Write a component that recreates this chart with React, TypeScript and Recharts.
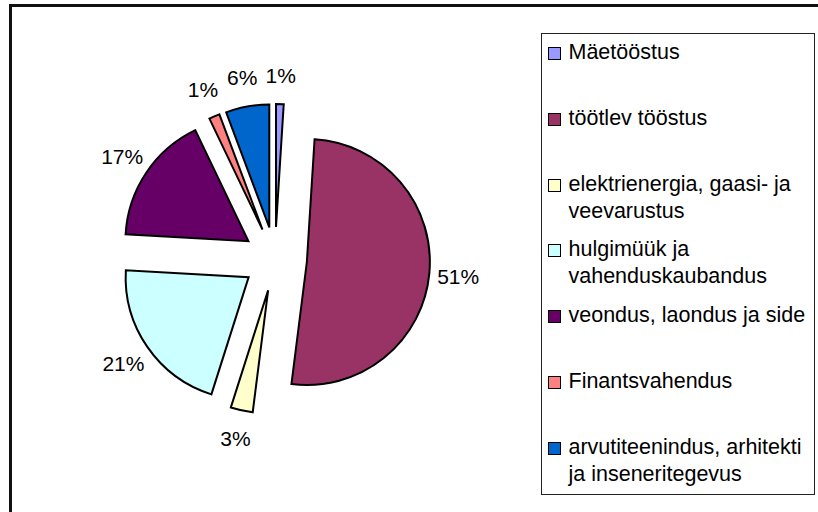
import { PieChart, Pie, Cell, Legend } from "recharts";

const categories = [
  "Mäetööstus",
  "töötlev tööstus",
  "elektrienergia, gaasi- ja veevarustus",
  "hulgimüük ja vahenduskaubandus",
  "veondus, laondus ja side",
  "Finantsvahendus",
  "arvutiteenindus, arhitekti ja inseneritegevus",
];
const shares = [1.0, 51.0, 2.9, 21.0, 17.0, 1.4, 5.7];
const colors = ["#9999FF", "#993366", "#FFFFCC", "#CCFFFF", "#660066", "#FF8080", "#0066CC"];

const data = categories.map((name, i) => ({ name, value: shares[i] }));
const total = shares.reduce((a, b) => a + b, 0);

const CX = 275;
const CY = 259;
const R = 123;
const EXPLODE = 32; // every slice pulled out by the same distance
const LABEL_R = 184;
const RAD = Math.PI / 180;
const FONT = '"Liberation Sans", Arial, sans-serif';

// middle of slice i, degrees clockwise from 12 o'clock
function midDeg(i: number) {
  const before = shares.slice(0, i).reduce((a, b) => a + b, 0);
  return ((before + shares[i] / 2) / total) * 360;
}

const makeLabel = (slice: number) => (props: any) => {
  if (props.index !== slice) return null;
  const a = -props.midAngle * RAD;
  const d = LABEL_R - EXPLODE;
  return (
    <text
      x={props.cx + d * Math.cos(a)}
      y={props.cy + d * Math.sin(a)}
      textAnchor="middle"
      dominantBaseline="central"
      fill="#000"
      fontSize={21}
      fontFamily={FONT}
    >
      {Math.round(props.percent * 100)}%
    </text>
  );
};

function LegendBox() {
  return (
    <div
      style={{
        boxSizing: "border-box",
        width: 274,
        height: 462,
        border: "1.5px solid #222",
        background: "#fff",
        paddingTop: 5,
        fontFamily: FONT,
        fontSize: 21.5,
        lineHeight: "27px",
        color: "#000",
      }}
    >
      {categories.map((name, i) => (
        <div key={name} style={{ position: "relative", height: 65.8 }}>
          <span
            style={{
              position: "absolute",
              left: 5.5,
              top: 8,
              width: 13,
              height: 13,
              boxSizing: "border-box",
              border: "1px solid #000",
              background: colors[i],
            }}
          />
          <div style={{ position: "absolute", left: 26.5, top: 0, width: 242 }}>{name}</div>
        </div>
      ))}
    </div>
  );
}

export default function App() {
  return (
    <div
      style={{
        position: "fixed",
        left: 0,
        top: 0,
        width: 818,
        height: 512,
        overflow: "hidden",
        background: "#fff",
      }}
    >
      <div
        style={{
          position: "absolute",
          left: 9,
          top: 4,
          width: 900,
          height: 600,
          border: "3px solid #111",
        }}
      />
      <div style={{ position: "absolute", left: 0, top: 0 }}>
        <PieChart width={818} height={512} margin={{ top: 0, right: 0, bottom: 0, left: 0 }}>
          {categories.map((_, slice) => {
            const m = midDeg(slice) * RAD;
            return (
              <Pie
                key={slice}
                data={data}
                dataKey="value"
                nameKey="name"
                cx={CX + EXPLODE * Math.sin(m)}
                cy={CY - EXPLODE * Math.cos(m)}
                outerRadius={R}
                startAngle={90}
                endAngle={-270}
                stroke="none"
                labelLine={false}
                label={makeLabel(slice)}
                isAnimationActive={false}
              >
                {data.map((_, j) => (
                  <Cell
                    key={j}
                    fill={j === slice ? colors[j] : "none"}
                    stroke={j === slice ? "#000" : "none"}
                    strokeWidth={2}
                  />
                ))}
              </Pie>
            );
          })}
          <Legend
            layout="vertical"
            align="right"
            verticalAlign="middle"
            width={274}
            height={462}
            wrapperStyle={{ left: 541, top: 33, right: "auto", bottom: "auto" }}
            content={() => <LegendBox />}
          />
        </PieChart>
      </div>
    </div>
  );
}
